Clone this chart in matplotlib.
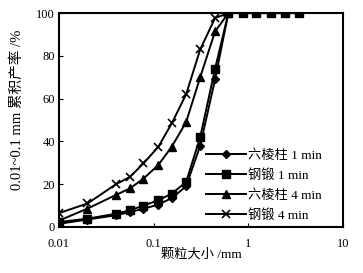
import matplotlib
matplotlib.use("Agg")
import matplotlib.pyplot as plt

# particle sizes (mm) shared by all series
size = [0.01, 0.02, 0.04, 0.056, 0.078, 0.112, 0.155, 0.22, 0.31, 0.445, 0.615,
        0.87, 1.2, 1.72, 2.44, 3.46]

hex_1min = [1.5, 3.5, 5.5, 7, 8.5, 10.5, 13.5, 19, 38, 69, 100,
            100, 100, 100, 100, 100]
steel_1min = [2.3, 3.9, 6.2, 7.8, 10, 12.5, 15.6, 21, 42, 74, 100,
              100, 100, 100, 100, 100]
hex_4min = [3, 8.6, 15, 18, 22.6, 29, 37.5, 49, 70, 91.4, 100]
steel_4min = [6.5, 11, 20, 23.4, 29.7, 37.5, 48.4, 62, 83, 97.7, 100]

labels = ["六棱柱 1 min", "钢锻 1 min", "六棱柱 4 min", "钢锻 4 min"]

plt.rcParams['font.family'] = ['Liberation Serif', 'Noto Sans CJK SC']
plt.rcParams['font.size'] = 8.5

fig = plt.figure(figsize=(3.63, 2.73), dpi=100)
ax = fig.add_axes([0.1625, 0.1685, 0.7825, 0.7835])

ax.plot(size, hex_1min, color='black', lw=1.4, marker='D', ms=4, label=labels[0])
ax.plot(size, steel_1min, color='black', lw=1.4, marker='s', ms=6, label=labels[1])
ax.plot(size[:len(hex_4min)], hex_4min, color='black', lw=1.4, marker='^', ms=6,
        label=labels[2])
ax.plot(size[:len(steel_4min)], steel_4min, color='black', lw=1.4, marker='x', ms=6,
        mew=1.2, label=labels[3])

ax.set_xscale('log')
ax.set_xlim(0.01, 10)
ax.set_ylim(0, 100)
ax.set_xticks([0.01, 0.1, 1, 10])
ax.set_xticklabels(["0.01", "0.1", "1", "10"])
ax.set_yticks([0, 20, 40, 60, 80, 100])
ax.minorticks_off()
ax.tick_params(direction='in', length=3, width=0.8, labelsize=9)
ax.tick_params(axis='x', pad=8)
ax.tick_params(axis='y', pad=3)
for sp in ax.spines.values():
    sp.set_linewidth(1.5)

ax.set_xlabel("颗粒大小 /mm", labelpad=-1, fontsize=9.5)
ax.set_ylabel("0.01~0.1 mm 累积产率 /%", fontsize=10.5)
ax.yaxis.set_label_coords(-0.125, 0.55)

ax.legend(loc='lower right', frameon=False, handlelength=3.0, handletextpad=0.2,
          labelspacing=0.55, borderaxespad=0.1, bbox_to_anchor=(0.95, -0.005),
          fontsize=9.5)

fig.savefig("out.png", dpi=100)
